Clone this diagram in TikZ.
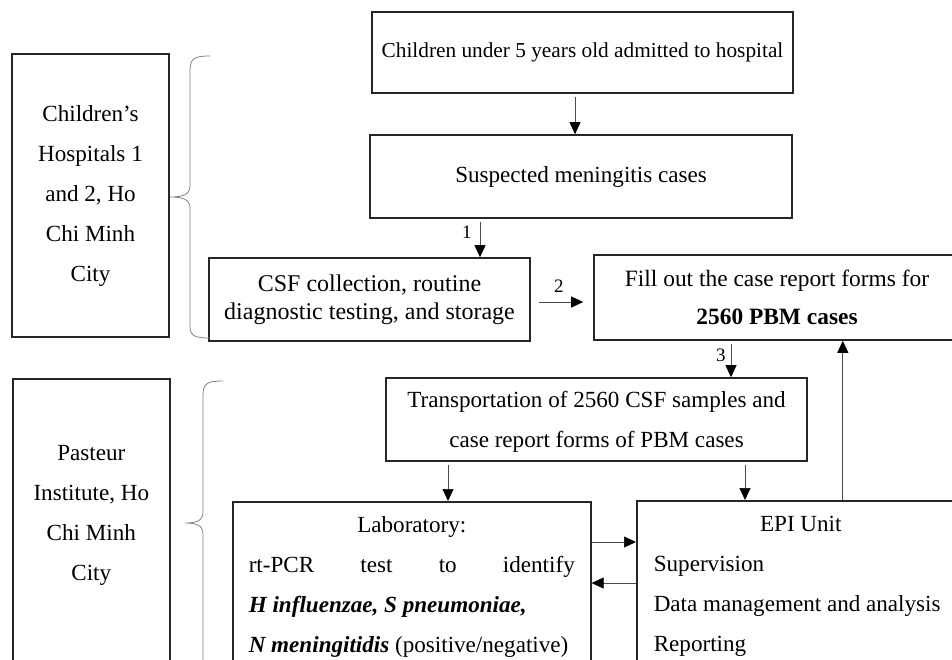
\documentclass[tikz,border=0pt]{standalone}
\usepackage{fontspec}
\setmainfont{Liberation Serif}
\usetikzlibrary{arrows.meta}

\begin{document}
\begin{tikzpicture}[x=1pt,y=-1pt,
    box/.style={draw=black!85, line width=1.6pt, rectangle, align=center, inner sep=0pt,
      font=\fontsize{23.1}{40}\selectfont},
    arr/.style={draw=black!70, line width=0.7pt, -{Triangle[length=12pt,width=11pt,black]}, shorten <=3pt},
    num/.style={font=\fontsize{19}{22}\selectfont, inner sep=3pt},
    curly/.style={draw=black!50, line width=0.8pt}]
          \useasboundingbox (0,0) rectangle (952,659);
          \clip (0,0) rectangle (952,659);

          \node[box, minimum width=421pt, minimum height=81pt,
            font=\fontsize{21.3}{40}\selectfont] (adm) at (582.5,52.5)
            {Children under 5 years old admitted to hospital};
          \node[box, minimum width=422pt, minimum height=83pt] (susp) at (581,176.5)
            {Suspected meningitis cases};
          \node[box, minimum width=321pt, minimum height=83pt,
            font=\fontsize{24}{28}\selectfont] (csf) at (369.5,299.5)
            {CSF collection, routine\\diagnostic testing, and storage};
          \node[box, minimum width=366pt, minimum height=85pt,
            font=\fontsize{23.4}{38}\selectfont] (fill) at (777,297.5)
            {Fill out the case report forms for\\\textbf{2560 PBM cases}};
          \node[box, minimum width=421pt, minimum height=83pt] (trans) at (596.5,419.5)
            {\rule{0pt}{20pt}Transportation of 2560 CSF samples and\\case report forms of PBM cases};

          \node[box, minimum width=157pt, minimum height=283pt] (hosp) at (90.5,195.5)
            {Children's\\Hospitals 1\\and 2, Ho\\Chi Minh\\City};
          \node[box, anchor=north west, minimum width=157pt, inner ysep=9pt] (past) at (12,378)
            {\parbox[c][300pt][t]{145pt}{\centering\vspace*{58pt}Pasteur\par Institute, Ho\par Chi Minh\par City}};

          \node[box, anchor=north west, inner xsep=16pt, inner ysep=15pt] (lab) at (232,501)
            {\parbox[c][200pt][t]{326pt}{{\centering Laboratory:\par}
              \makebox[\linewidth][s]{rt-PCR test to identify}\par
              \textbf{\textit{H influenzae, S pneumoniae,}}\par
              \textbf{\textit{N meningitidis}} (positive/negative)}};
          \node[box, anchor=north west, inner xsep=17pt, inner ysep=15pt] (epi) at (636,500)
            {\parbox[c][200pt][t]{294pt}{{\centering EPI Unit\par}
              Supervision\par
              Data management and analysis\par
              Reporting}};

          % flow
          \draw[arr] ([xshift=-7.5pt]adm.south) -- ([xshift=-7.5pt]adm.south |- susp.north);
          \draw[arr] ([xshift=-101pt]susp.south) -- ([xshift=-101pt]susp.south |- csf.north)
            node[num, pos=0.35, left, xshift=-5pt] {1};
          \draw[arr, shorten <=8pt, shorten >=10pt] ([yshift=-2.5pt]csf.east)
            -- ([yshift=-2.5pt]csf.east -| fill.west) node[num, pos=0.45, above, yshift=6pt] {2};
          \draw[arr] ([xshift=-46pt]fill.south) -- ([xshift=-46pt]fill.south |- trans.north)
            node[num, pos=0.4, left, xshift=-2pt] {3};
          \draw[arr] ([xshift=-148.5pt]trans.south) -- ([xshift=-148.5pt]trans.south |- lab.north);
          \draw[arr] ([xshift=148.5pt]trans.south) -- ([xshift=148.5pt]trans.south |- epi.north);
          \draw[arr, shorten <=0pt] ([xshift=42pt]epi.north) -- ([xshift=42pt]epi.north |- fill.south);
          \draw[arr, shorten <=0pt] ([yshift=-41pt]lab.north east) -- ([yshift=-41pt]lab.north east -| epi.west);
          \draw[arr, shorten <=0pt] ([yshift=-83pt]epi.north west) -- ([yshift=-83pt]epi.north west -| lab.east);

          % braces
          \draw[curly] (210,56) .. controls (195,56) and (190,58) .. (190,70) -- (190,186)
            .. controls (190,195) and (182,197) .. (170,197)
            .. controls (182,197) and (190,199) .. (190,208) -- (190,326)
            .. controls (190,336) and (195,338) .. (210,338);
          \draw[curly] (223,381) .. controls (208,381) and (203,383) .. (203,395) -- (203,512)
            .. controls (203,521) and (196,523) .. (185,523)
            .. controls (196,523) and (203,525) .. (203,534) -- (203,670);
        \end{tikzpicture}
\end{document}
